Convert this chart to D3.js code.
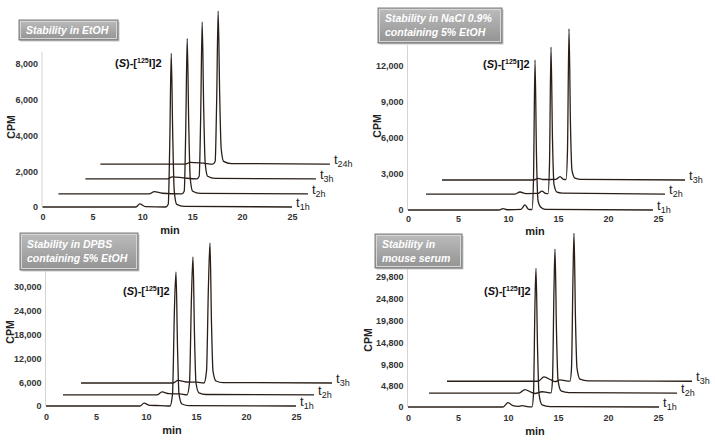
<!DOCTYPE html>
<html>
<head>
<meta charset="utf-8">
<script src="https://cdn.jsdelivr.net/npm/d3@7"></script>
<style>
  body { margin: 0; background: #fff; }
  svg { display: block; font-family: "Liberation Sans", Arial, sans-serif; }
  .tick text { fill: #333; font-weight: bold; font-size: 9px; }
  .axis-title { fill: #222; font-weight: bold; }
  .trace { fill: none; stroke: #2a1f18; stroke-width: 1.3; stroke-linejoin: round; }
  .trace-label { fill: #222; }
  .box-title { fill: #fff; font-weight: bold; font-style: italic; font-size: 10.5px; }
</style>
</head>
<body>
<script>
const minTicks = [0, 5, 10, 15, 20, 25];

// Stability in EtOH
const ethTicks = [0, 2000, 4000, 6000, 8000];
const ethLabels = ["1h", "2h", "3h", "24h"];
const ethShiftMin = [0, 1.6, 3.1, 4.7];
const ethShiftCpm = [0, 730, 1570, 2400];
const ethT1 = [[0,0],[9.35,0],[9.75,170],[10.3,20],[12.35,0],[12.6,150],[12.75,3500],[12.9,8600],[13.05,4000],[13.2,900],[13.45,150],[14.2,40],[25,0]];
const ethT2 = [[0,0],[9.1,0],[9.6,130],[10.4,40],[12.35,0],[12.6,150],[12.75,3500],[12.9,8700],[13.05,4000],[13.2,900],[13.45,150],[14.2,30],[25,0]];
const ethT3 = [[1.2,0],[9.4,0],[9.9,120],[11.0,60],[12.35,0],[12.6,150],[12.75,3500],[12.9,8780],[13.05,4000],[13.2,900],[13.45,150],[14.2,30],[24.3,0]];
const ethT24 = [[1.1,0],[9.6,0],[10.1,100],[11.4,50],[12.35,0],[12.6,150],[12.75,3500],[12.9,8560],[13.05,4000],[13.2,900],[13.45,150],[14.2,30],[24.1,0]];

// Stability in NaCl 0.9% containing 5% EtOH
const naclTicks = [0, 3000, 6000, 9000, 12000];
const naclLabels = ["1h", "2h", "3h"];
const naclShiftMin = [0, 1.6, 3.4];
const naclShiftCpm = [0, 1330, 2500];
const naclT1 = [[0,0],[9.1,0],[9.5,110],[9.9,20],[11.3,60],[11.7,420],[12.05,60],[12.4,40],[12.55,2500],[12.7,12500],[12.85,4500],[13.0,800],[13.25,250],[13.7,60],[24.5,0]];
const naclT2 = [[0.2,0],[9.1,0],[9.6,170],[10.2,40],[11.4,50],[11.8,250],[12.15,60],[12.4,40],[12.55,2500],[12.7,12250],[12.85,4500],[13.0,800],[13.3,150],[13.8,80],[24.1,0]];
const naclT3 = [[0,0],[9.2,0],[9.6,140],[10.1,40],[11.4,60],[11.8,280],[12.15,60],[12.4,40],[12.55,2500],[12.7,12600],[12.85,4500],[13.0,800],[13.3,150],[13.8,60],[24.3,0]];

// Stability in DPBS containing 5% EtOH
const dpbsTicks = [0, 6000, 12000, 18000, 24000, 30000];
const dpbsLabels = ["1h", "2h", "3h"];
const dpbsShiftMin = [0, 1.7, 3.4];
const dpbsShiftCpm = [0, 2800, 5800];
const dpbsT1 = [[0,0],[9.4,0],[9.8,700],[10.4,150],[11.5,100],[12.4,0],[12.65,3000],[12.85,25000],[13.0,33800],[13.15,15000],[13.3,3000],[13.6,500],[14.3,100],[25,0]];
const dpbsT2 = [[0,0],[9.4,0],[9.9,750],[10.6,300],[11.7,250],[12.4,0],[12.65,3000],[12.85,25000],[13.0,34800],[13.15,15000],[13.3,3000],[13.6,500],[14.3,100],[25.1,0]];
const dpbsT3 = [[0.1,0],[9.3,0],[9.8,650],[10.6,250],[11.7,200],[12.4,0],[12.65,3000],[12.85,25000],[13.0,35300],[13.15,15000],[13.3,3000],[13.6,500],[14.3,100],[25.2,0]];

// Stability in mouse serum
const serumTicks = [0, 4800, 9800, 14800, 19800, 24800, 29800];
const serumLabels = ["1h", "2h", "3h"];
const serumShiftMin = [0, 1.9, 3.8];
const serumShiftCpm = [0, 3200, 5900];
const serumT1 = [[0,0],[9.5,0],[10.0,1000],[10.5,300],[11.0,150],[11.4,300],[11.9,100],[12.4,50],[12.55,3000],[12.7,24000],[12.8,31800],[12.95,14000],[13.1,3000],[13.4,500],[14.2,100],[25.1,0]];
const serumT2 = [[0.2,0],[9.2,0],[9.8,800],[10.4,200],[10.8,-100],[11.5,300],[12.1,100],[12.4,50],[12.55,3000],[12.7,24000],[12.8,33000],[12.95,14000],[13.1,3000],[13.4,500],[14.2,100],[25,0]];
const serumT3 = [[0.1,0],[9.2,0],[9.8,1000],[10.5,300],[10.9,-100],[11.4,300],[12.0,100],[12.4,50],[12.55,3000],[12.7,24000],[12.8,33900],[12.95,14000],[13.1,3000],[13.4,500],[14.2,100],[24.6,0]];

const panels = [
  { title: ["Stability in EtOH"], ticks: ethTicks, labels: ethLabels, shiftMin: ethShiftMin, shiftCpm: ethShiftCpm,
    traces: [ethT1, ethT2, ethT3, ethT24],
    x: [42.5, 292], y: [207, 64], axisTop: 52, tickY: 220, minPos: [170, 230], cpmPos: [11, 127],
    compound: [115, 67], box: { x: 19, y: 20, w: 99, h: 20 } },
  { title: ["Stability in NaCl 0.9%", "containing 5% EtOH"], ticks: naclTicks, labels: naclLabels, shiftMin: naclShiftMin, shiftCpm: naclShiftCpm,
    traces: [naclT1, naclT2, naclT3],
    x: [408, 658], y: [210, 66], axisTop: 45, tickY: 222, minPos: [535, 231], cpmPos: [377, 126],
    compound: [483, 68], box: { x: 378, y: 8, w: 124, h: 35 } },
  { title: ["Stability in DPBS", "containing 5% EtOH"], ticks: dpbsTicks, labels: dpbsLabels, shiftMin: dpbsShiftMin, shiftCpm: dpbsShiftCpm,
    traces: [dpbsT1, dpbsT2, dpbsT3],
    x: [46, 296], y: [406, 287], axisTop: 270, tickY: 420, minPos: [172, 430], cpmPos: [10, 332],
    compound: [123, 295], box: { x: 20, y: 233, w: 118, h: 37 } },
  { title: ["Stability in", "mouse serum"], ticks: serumTicks, labels: serumLabels, shiftMin: serumShiftMin, shiftCpm: serumShiftCpm,
    traces: [serumT1, serumT2, serumT3],
    x: [408, 658], y: [407, 277], axisTop: 268, tickY: 421, minPos: [535, 431], cpmPos: [368, 340],
    compound: [484, 295], box: { x: 375, y: 234, w: 87, h: 34 } }
];

const svg = d3.select("body").append("svg").attr("width", 715).attr("height", 441);

const grad = svg.append("defs").append("linearGradient")
  .attr("id", "boxFill").attr("x1", 0).attr("y1", 0).attr("x2", 0).attr("y2", 1);
grad.append("stop").attr("offset", "0%").attr("stop-color", "#bcbcbc");
grad.append("stop").attr("offset", "100%").attr("stop-color", "#939393");

function drawPanel(p) {
  const g = svg.append("g");
  const x = d3.scaleLinear().domain([0, 25]).range(p.x);
  const yMax = p.ticks[p.ticks.length - 1];
  const y = d3.scaleLinear().domain([0, yMax]).range(p.y);

  // light y axis line
  g.append("line")
    .attr("x1", x(0) - 0.5).attr("x2", x(0) - 0.5)
    .attr("y1", p.axisTop).attr("y2", y(0))
    .attr("stroke", "#d4d4d4").attr("stroke-width", 1);

  const yAxis = g.append("g")
    .attr("transform", `translate(${x(0) - 0.5},0)`)
    .call(d3.axisLeft(y).tickValues(p.ticks).tickSize(0).tickPadding(4).tickFormat(d3.format(",")));
  yAxis.select(".domain").remove();

  const xAxis = g.append("g")
    .attr("transform", `translate(0,${p.tickY - 6})`)
    .call(d3.axisBottom(x).tickValues(minTicks).tickSize(0).tickPadding(0));
  xAxis.select(".domain").remove();

  g.append("text").attr("class", "axis-title")
    .attr("x", p.minPos[0]).attr("y", p.minPos[1]).attr("dy", "0.35em")
    .attr("text-anchor", "middle").attr("font-size", 11).text("min");

  g.append("text").attr("class", "axis-title")
    .attr("transform", `translate(${p.cpmPos[0]},${p.cpmPos[1]}) rotate(-90)`)
    .attr("dy", "0.35em").attr("text-anchor", "middle").attr("font-size", 10.5).text("CPM");

  // traces, drawn back to front
  p.traces.forEach((pts, i) => {
    const dx = p.shiftMin[i], dy = p.shiftCpm[i];
    const line = d3.line()
      .x((d) => x(d[0] + dx))
      .y((d) => y(d[1] + dy))
      .curve(d3.curveMonotoneX);
    g.append("path").attr("class", "trace").attr("d", line(pts));

    const last = pts[pts.length - 1];
    const lab = g.append("text").attr("class", "trace-label")
      .attr("x", x(last[0] + dx) + 4).attr("y", y(last[1] + dy));
    lab.append("tspan").attr("font-size", 13).text("t");
    lab.append("tspan").attr("font-size", 9).attr("dy", 3).text(p.labels[i]);
  });

  // compound label (S)-[125I]2
  const c = g.append("text").attr("x", p.compound[0]).attr("y", p.compound[1])
    .attr("font-weight", "bold").attr("font-size", 11).attr("fill", "#111");
  c.append("tspan").text("(");
  c.append("tspan").attr("font-style", "italic").text("S");
  c.append("tspan").text(")-[");
  c.append("tspan").attr("font-size", 7).attr("dy", -4).text("125");
  c.append("tspan").attr("dy", 4).text("I]2");

  // title box
  const b = p.box;
  g.append("rect").attr("x", b.x + 1.5).attr("y", b.y + 1.5).attr("width", b.w).attr("height", b.h)
    .attr("fill", "#c8c8c8");
  g.append("rect").attr("x", b.x).attr("y", b.y).attr("width", b.w).attr("height", b.h)
    .attr("fill", "url(#boxFill)").attr("stroke", "#7d7d7d").attr("stroke-width", 1);
  g.append("rect").attr("x", b.x + 1.5).attr("y", b.y + 1.5).attr("width", b.w - 3).attr("height", b.h - 3)
    .attr("fill", "none").attr("stroke", "#d6d6d6").attr("stroke-width", 1);
  const lineH = 14;
  const firstY = b.y + b.h / 2 - (p.title.length - 1) * lineH / 2;
  p.title.forEach((t, i) => {
    g.append("text").attr("class", "box-title")
      .attr("x", b.x + 7).attr("y", firstY + i * lineH).attr("dy", "0.35em")
      .text(t);
  });
}

panels.forEach(drawPanel);
</script>
</body>
</html>
